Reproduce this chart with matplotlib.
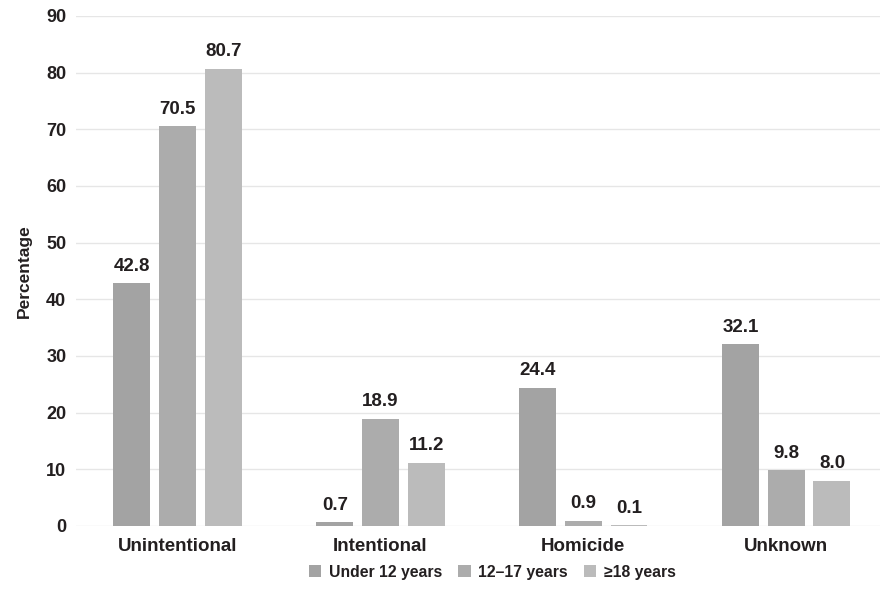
import matplotlib
matplotlib.use("Agg")
import matplotlib.pyplot as plt
import numpy as np

categories = ["Unintentional", "Intentional", "Homicide", "Unknown"]
series_names = ["Under 12 years", "12\u201317 years", "\u226518 years"]
under12 = [42.8, 0.7, 24.4, 32.1]
age12_17 = [70.5, 18.9, 0.9, 9.8]
age18plus = [80.7, 11.2, 0.1, 8.0]
series = [under12, age12_17, age18plus]
colors = ["#a3a3a3", "#acacac", "#bbbbbb"]
yticks = [0, 10, 20, 30, 40, 50, 60, 70, 80, 90]

plt.rcParams['font.family'] = ['Liberation Sans', 'DejaVu Sans']
fig = plt.figure(figsize=(8.87, 5.90), dpi=100)
ax = fig.add_axes([0.0857, 0.1085, 0.906, 0.8645])

x = np.arange(len(categories))
step = 0.225
width = 0.182
for i, (vals, name, c) in enumerate(zip(series, series_names, colors)):
    pos = x + (i - 1) * step
    ax.bar(pos, vals, width=width, color=c, label=name, zorder=3)
    for p, v in zip(pos, vals):
        ax.text(p, v + 1.5, f"{v:.1f}", ha="center", va="bottom",
                fontsize=13.5, fontweight="bold", color="#231f20")

ax.set_xlim(-0.5, 3.46)
ax.set_ylim(0, 90)
ax.set_yticks(yticks)
ax.set_yticklabels([str(t) for t in yticks], fontsize=13, fontweight="bold", color="#231f20")
ax.set_xticks(x)
ax.set_xticklabels(categories, fontsize=13.5, fontweight="bold", color="#231f20")
ax.tick_params(axis="both", length=0)
ax.tick_params(axis="y", pad=7)
ax.tick_params(axis="x", pad=9)
ax.grid(axis="y", color="#e6e6e6", linewidth=1, zorder=0)
for s in ax.spines.values():
    s.set_visible(False)
ax.set_ylabel("Percentage", fontsize=12.5, fontweight="bold", color="#231f20", labelpad=10)

leg = fig.legend(loc="center", bbox_to_anchor=(0.555, 0.03), ncol=3, frameon=False,
                 prop={"size": 11.3, "weight": "bold"}, handlelength=0.8, handleheight=0.8,
                 handletextpad=0.5, columnspacing=1.0)
for t in leg.get_texts():
    t.set_color("#231f20")

fig.savefig("out.png", dpi=100)
